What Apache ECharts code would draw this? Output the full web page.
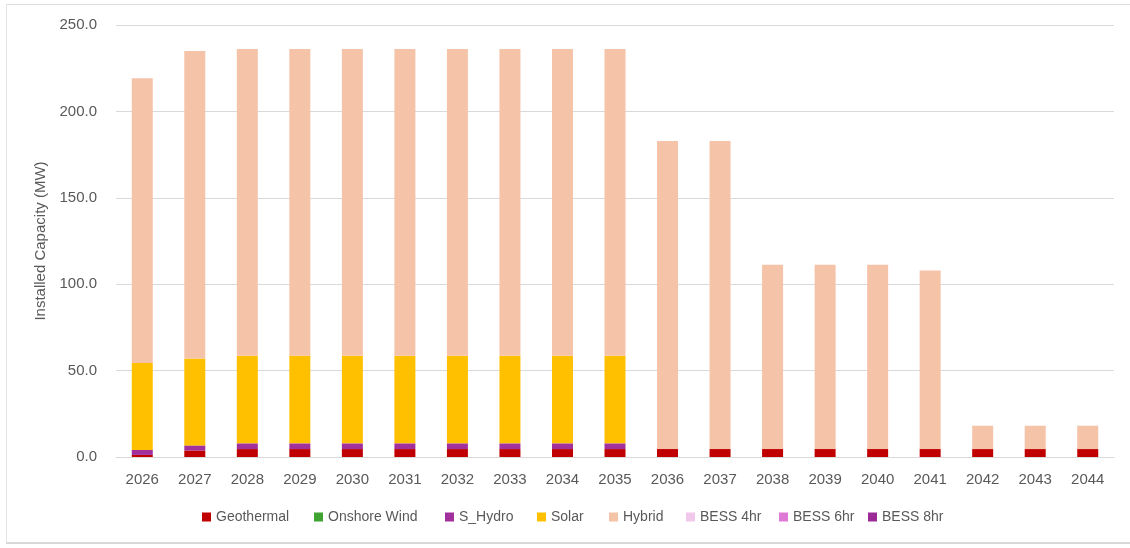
<!DOCTYPE html>
<html>
<head>
<meta charset="utf-8">
<script src="https://cdn.jsdelivr.net/npm/echarts@6/dist/echarts.min.js"></script>
<style>
  html, body { margin: 0; padding: 0; background: #ffffff; }
  #frame { position: absolute; left: 6px; top: 4px; width: 1130px; height: 540px;
           border-top: 1px solid #dedede; border-left: 1px solid #e4e4e4; border-bottom: 2px solid #d8d8d8; box-sizing: border-box; }
  #chart { position: absolute; left: 0; top: 0; width: 1130px; height: 548px; }
</style>
</head>
<body>
<div id="frame"></div>
<div id="chart"></div>
<script>
// Installed capacity by technology (MW), 2026-2044
const years = ['2026','2027','2028','2029','2030','2031','2032','2033','2034','2035',
               '2036','2037','2038','2039','2040','2041','2042','2043','2044'];

const geothermal   = [1.2, 3.8, 4.6, 4.6, 4.6, 4.6, 4.6, 4.6, 4.6, 4.6, 4.6, 4.6, 4.6, 4.6, 4.6, 4.6, 4.6, 4.6, 4.6];
const onshoreWind  = [0, 0, 0, 0, 0, 0, 0, 0, 0, 0, 0, 0, 0, 0, 0, 0, 0, 0, 0];
const sHydro       = [2.9, 2.9, 3.3, 3.3, 3.3, 3.3, 3.3, 3.3, 3.3, 3.3, 0, 0, 0, 0, 0, 0, 0, 0, 0];
const solar        = [50.3, 50.3, 50.7, 50.7, 50.7, 50.7, 50.7, 50.7, 50.7, 50.7, 0, 0, 0, 0, 0, 0, 0, 0, 0];
const hybrid       = [164.8, 177.9, 177.5, 177.5, 177.5, 177.5, 177.5, 177.5, 177.5, 177.5,
                      178.3, 178.3, 106.6, 106.6, 106.6, 103.4, 13.5, 13.5, 13.5];
const bess4hr      = [0, 0, 0, 0, 0, 0, 0, 0, 0, 0, 0, 0, 0, 0, 0, 0, 0, 0, 0];
const bess6hr      = [0, 0, 0, 0, 0, 0, 0, 0, 0, 0, 0, 0, 0, 0, 0, 0, 0, 0, 0];
const bess8hr      = [0, 0, 0, 0, 0, 0, 0, 0, 0, 0, 0, 0, 0, 0, 0, 0, 0, 0, 0];

const yTicks = { min: 0, max: 250, interval: 50 };

const seriesDefs = [
  { name: 'Geothermal',    data: geothermal,  color: '#c00000' },
  { name: 'Onshore Wind',  data: onshoreWind, color: '#3ea331' },
  { name: 'S_Hydro',       data: sHydro,      color: '#a2309c' },
  { name: 'Solar',         data: solar,       color: '#ffc000' },
  { name: 'Hybrid',        data: hybrid,      color: '#f5c3a8' },
  { name: 'BESS 4hr',      data: bess4hr,     color: '#f1c8ec' },
  { name: 'BESS 6hr',      data: bess6hr,     color: '#de7ad6' },
  { name: 'BESS 8hr',      data: bess8hr,     color: '#9b2a96' }
];

// left edge of each legend entry along the bottom row
const legendLeft = [202, 314, 445, 537, 609, 686, 779, 868];

const textColor = '#595959';
const baseFont = 'Liberation Sans, Arial, sans-serif';

const chart = echarts.init(document.getElementById('chart'), null, { renderer: 'canvas' });

chart.setOption({
  backgroundColor: 'transparent',
  animation: false,
  grid: { left: 116, right: 16, top: 25, bottom: 91, containLabel: false },
  legend: seriesDefs.map((s, i) => ({
    data: [s.name],
    left: legendLeft[i],
    top: 510,
    padding: 0,
    icon: 'rect',
    itemWidth: 9,
    itemHeight: 9,
    selectedMode: false,
    textStyle: { color: textColor, fontSize: 14, fontFamily: baseFont }
  })),
  xAxis: {
    type: 'category',
    data: years,
    axisLine: { show: true, lineStyle: { color: '#d9d9d9', width: 1 } },
    axisTick: { show: false },
    axisLabel: { color: textColor, fontSize: 15, fontFamily: baseFont, margin: 15 }
  },
  yAxis: {
    type: 'value',
    min: yTicks.min,
    max: yTicks.max,
    interval: yTicks.interval,
    name: 'Installed Capacity (MW)',
    nameLocation: 'middle',
    nameGap: 62,
    nameTextStyle: { color: textColor, fontSize: 15, fontFamily: baseFont },
    axisLine: { show: false },
    axisTick: { show: false },
    axisLabel: { color: textColor, fontSize: 15, fontFamily: baseFont, margin: 19,
                 formatter: v => v.toFixed(1) },
    splitLine: { show: true, lineStyle: { color: '#d9d9d9', width: 1 } }
  },
  series: seriesDefs.map(s => ({
    name: s.name,
    type: 'bar',
    stack: 'capacity',
    data: s.data,
    barWidth: 21,
    itemStyle: { color: s.color },
    emphasis: { disabled: true }
  }))
});
</script>
</body>
</html>
